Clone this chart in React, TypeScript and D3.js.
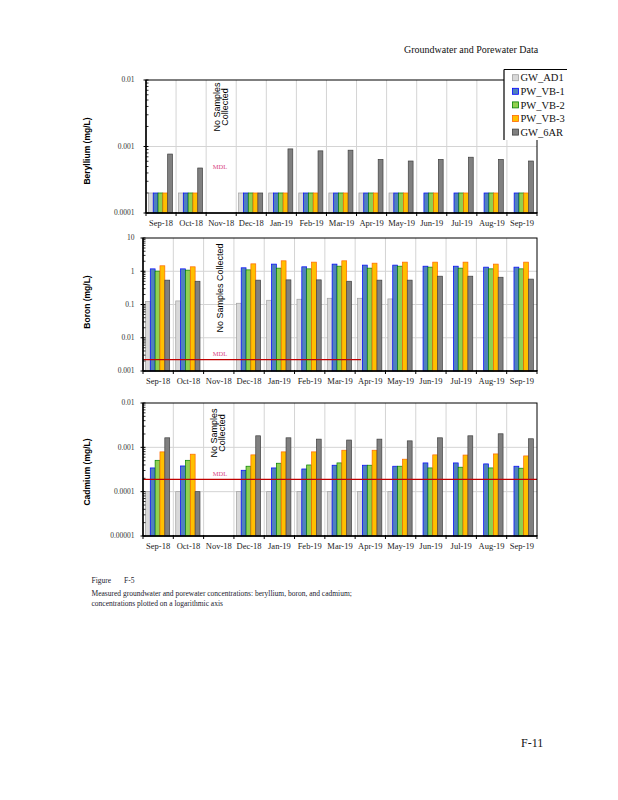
import * as d3 from "d3";
import * as React from "react";

const months = [
  "Sep-18", "Oct-18", "Nov-18", "Dec-18", "Jan-19", "Feb-19", "Mar-19",
  "Apr-19", "May-19", "Jun-19", "Jul-19", "Aug-19", "Sep-19",
];
const seriesNames = ["GW_AD1", "PW_VB-1", "PW_VB-2", "PW_VB-3", "GW_6AR"];
const fills = ["#d9d9d9", "#4f81bd", "#92d050", "#ffc000", "#808080"];
const strokes = ["#a0a0a0", "#0000ff", "#008000", "#ff6600", "#404040"];

// Beryllium (mg/L)
const beAD1 = [2e-4, 2e-4, null, 2e-4, 2e-4, 2e-4, 2e-4, 2e-4, 2e-4, null, null, null, null];
const beVB1 = [2e-4, 2e-4, null, 2e-4, 2e-4, 2e-4, 2e-4, 2e-4, 2e-4, 2e-4, 2e-4, 2e-4, 2e-4];
const beVB2 = [2e-4, 2e-4, null, 2e-4, 2e-4, 2e-4, 2e-4, 2e-4, 2e-4, 2e-4, 2e-4, 2e-4, 2e-4];
const beVB3 = [2e-4, 2e-4, null, 2e-4, 2e-4, 2e-4, 2e-4, 2e-4, 2e-4, 2e-4, 2e-4, 2e-4, 2e-4];
const be6AR = [7.7e-4, 4.75e-4, null, 2e-4, 9.2e-4, 8.6e-4, 8.8e-4, 6.4e-4, 6.05e-4, 6.4e-4, 6.9e-4, 6.4e-4, 6.05e-4];

// Boron (mg/L)
const bAD1 = [0.122, 0.128, null, 0.109, 0.134, 0.144, 0.154, 0.154, 0.147, null, null, null, null];
const bVB1 = [1.18, 1.18, null, 1.27, 1.64, 1.36, 1.64, 1.53, 1.53, 1.42, 1.42, 1.33, 1.33];
const bVB2 = [1.01, 1.08, null, 1.1, 1.24, 1.18, 1.42, 1.24, 1.42, 1.33, 1.24, 1.18, 1.18];
const bVB3 = [1.46, 1.36, null, 1.67, 2.06, 1.88, 2.06, 1.75, 1.88, 1.88, 1.88, 1.64, 1.88];
const b6AR = [0.54, 0.5, null, 0.54, 0.55, 0.55, 0.5, 0.54, 0.54, 0.71, 0.71, 0.66, 0.58];

// Cadmium (mg/L)
const cdAD1 = [1e-4, 1e-4, null, 1e-4, 1e-4, 1e-4, 1e-4, 1e-4, 1e-4, null, null, null, null];
const cdVB1 = [3.43e-4, 3.8e-4, null, 3.04e-4, 3.43e-4, 3.25e-4, 3.95e-4, 3.95e-4, 3.75e-4, 4.45e-4, 4.45e-4, 4.23e-4, 3.75e-4];
const cdVB2 = [5.1e-4, 5.1e-4, null, 3.75e-4, 4.38e-4, 4.0e-4, 4.45e-4, 3.95e-4, 3.75e-4, 3.43e-4, 3.56e-4, 3.43e-4, 3.38e-4];
const cdVB3 = [7.9e-4, 7.0e-4, null, 6.76e-4, 7.9e-4, 7.9e-4, 8.6e-4, 8.6e-4, 5.4e-4, 6.76e-4, 6.7e-4, 7.1e-4, 6.4e-4];
const cd6AR = [1.64e-3, 1e-4, null, 1.82e-3, 1.64e-3, 1.53e-3, 1.46e-3, 1.53e-3, 1.4e-3, 1.64e-3, 1.82e-3, 2.02e-3, 1.56e-3];

const beTicks = ["0.0001", "0.001", "0.01"];
const bTicks = ["0.001", "0.01", "0.1", "1", "10"];
const cdTicks = ["0.00001", "0.0001", "0.001", "0.01"];

const bMDL = 0.0022;
const cdMDL = 1.9e-4;

const serif = "'Liberation Serif', 'Times New Roman', serif";
const sans = "'Liberation Sans', Arial, sans-serif";

type PanelProps = {
  title: string;
  data: Array<Array<number | null>>;
  ticks: string[];
  left: number;
  right: number;
  top: number;
  bottom: number;
  titleY: number;
  mdl?: number;
  mdlEnd?: number;
  mdlLabelY: number;
  noteLines: string[];
  noteX: number;
  noteY: number;
};

function Panel(props: PanelProps) {
  const { title, data, ticks, left, right, top, bottom, titleY, mdl, mdlEnd, mdlLabelY, noteLines, noteX, noteY } = props;
  const tickVals = ticks.map((t) => +t);
  const y = d3.scaleLog().domain([tickVals[0], tickVals[tickVals.length - 1]]).range([bottom, top]);
  const x = d3.scaleBand().domain(months).range([left, right]);
  const bw = x.bandwidth();
  const sub = d3.scaleBand().domain(seriesNames).range([bw * 0.08, bw * 0.88]);

  const minor: number[] = [];
  tickVals.slice(0, -1).forEach((d) => {
    for (let k = 2; k <= 9; k++) minor.push(d * k);
  });

  const bounds = months.map((m) => x(m) as number).concat([right]);

  return (
    <g>
      {/* horizontal grid */}
      {tickVals.slice(1, -1).map((t) => (
        <line key={"hg" + t} x1={left} x2={right} y1={y(t)} y2={y(t)} stroke="#d4d4d4" strokeWidth={1} />
      ))}
      {/* vertical grid */}
      {bounds.slice(1, -1).map((bx, i) => (
        <line key={"vg" + i} x1={bx} x2={bx} y1={top} y2={bottom} stroke="#d4d4d4" strokeWidth={1} />
      ))}
      {/* bars */}
      {data.map((vals, si) =>
        vals.map((v, mi) =>
          v == null ? null : (
            <rect
              key={si + "-" + mi}
              x={(x(months[mi]) as number) + (sub(seriesNames[si]) as number)}
              y={y(v)}
              width={sub.bandwidth()}
              height={bottom - y(v)}
              fill={fills[si]}
              stroke={strokes[si]}
              strokeWidth={0.7}
            />
          )
        )
      )}
      {/* MDL */}
      {mdl != null && (
        <line x1={left} x2={mdlEnd ?? right} y1={y(mdl)} y2={y(mdl)} stroke="#c00000" strokeWidth={1.3} />
      )}
      <text x={220} y={mdlLabelY} fontFamily={serif} fontSize={6.5} fill="#d8457f" textAnchor="middle">
        MDL
      </text>
      {/* frame */}
      <rect x={left} y={top} width={right - left} height={bottom - top} fill="none" stroke="#000" strokeWidth={1} />
      <line x1={left} x2={left} y1={top} y2={bottom} stroke="#000" strokeWidth={1.4} />
      <line x1={left} x2={right} y1={bottom} y2={bottom} stroke="#000" strokeWidth={1.4} />
      {/* y ticks */}
      {tickVals.map((t, i) => (
        <g key={"yt" + t}>
          <line x1={left - 2.5} x2={left + 2.5} y1={y(t)} y2={y(t)} stroke="#000" strokeWidth={1} />
          <text x={134.5} y={y(t)} dy="0.33em" textAnchor="end" fontFamily={serif} fontSize={7.5} fill="#333">
            {ticks[i]}
          </text>
        </g>
      ))}
      {minor.map((t) => (
        <line key={"mt" + t} x1={left} x2={left + 2.5} y1={y(t)} y2={y(t)} stroke="#000" strokeWidth={0.8} />
      ))}
      {/* x ticks */}
      {bounds.map((bx, i) => (
        <line key={"xt" + i} x1={bx} x2={bx} y1={bottom - 1} y2={bottom + 3} stroke="#000" strokeWidth={1} />
      ))}
      {months.map((m) => (
        <text key={"xl" + m} x={(x(m) as number) + bw / 2} y={bottom + 13} textAnchor="middle" fontFamily={serif} fontSize={8.5} fill="#222">
          {m}
        </text>
      ))}
      {/* y title */}
      <text
        transform={`translate(89.5,${titleY}) rotate(-90)`}
        textAnchor="middle"
        fontFamily={sans}
        fontWeight="bold"
        fontSize={8.5}
        fill="#000"
      >
        {title}
      </text>
      {/* note */}
      <text transform={`translate(${noteX},${noteY}) rotate(-90)`} textAnchor="middle" fontFamily={sans} fontSize={9} fill="#000">
        {noteLines.map((l, i) => (
          <tspan key={i} x={0} dy={i === 0 ? 0 : 8}>
            {l}
          </tspan>
        ))}
      </text>
    </g>
  );
}

export default function App() {
  const legendTop = 69.5;
  return (
    <svg width={618} height={800} style={{ position: "absolute", left: 0, top: 0, background: "#fff" }}>
      <rect width={618} height={800} fill="#fff" />
      <text x={404} y={53} fontFamily={serif} fontSize={10} fill="#111">
        Groundwater and Porewater Data
      </text>

      <Panel
        title="Beryllium (mg/L)"
        data={[beAD1, beVB1, beVB2, beVB3, be6AR]}
        ticks={beTicks}
        left={146}
        right={537}
        top={80}
        bottom={213}
        titleY={151}
        mdlLabelY={169}
        noteLines={["No Samples", "Collected"]}
        noteX={220}
        noteY={107}
      />
      <Panel
        title="Boron (mg/L)"
        data={[bAD1, bVB1, bVB2, bVB3, b6AR]}
        ticks={bTicks}
        left={143}
        right={537}
        top={238}
        bottom={371}
        titleY={302}
        mdl={bMDL}
        mdlEnd={361}
        mdlLabelY={355.5}
        noteLines={["No Samples Collected"]}
        noteX={223}
        noteY={288}
      />
      <Panel
        title="Cadmium (mg/L)"
        data={[cdAD1, cdVB1, cdVB2, cdVB3, cd6AR]}
        ticks={cdTicks}
        left={143}
        right={537}
        top={403}
        bottom={536}
        titleY={472}
        mdl={cdMDL}
        mdlLabelY={475.5}
        noteLines={["No Samples", "Collected"]}
        noteX={217}
        noteY={433}
      />

      {/* legend */}
      <g>
        <rect x={504} y={legendTop} width={90} height={70.5} fill="#fff" />
        <line x1={504} x2={567} y1={legendTop} y2={legendTop} stroke="#000" strokeWidth={1.2} />
        <line x1={504} x2={504} y1={legendTop} y2={140} stroke="#000" strokeWidth={1.2} />
        {seriesNames.map((s, i) => (
          <g key={s} transform={`translate(512.5,${77.7 + i * 13.6})`}>
            <rect x={0} y={-3} width={6} height={6} fill={fills[i]} stroke={strokes[i]} strokeWidth={0.8} />
            <text x={8} y={0} dy="0.35em" fontFamily={serif} fontSize={10.5} fill="#111">
              {s}
            </text>
          </g>
        ))}
      </g>

      {/* caption */}
      <text x={91.5} y={583} fontFamily={serif} fontSize={7.5} fill="#1a1a2e">
        Figure
      </text>
      <text x={124} y={583} fontFamily={serif} fontSize={7.5} fill="#1a1a2e">
        F-5
      </text>
      <text x={91.5} y={595.5} fontFamily={serif} fontSize={7.5} fill="#1a1a2e">
        Measured groundwater and porewater concentrations: beryllium, boron, and cadmium;
      </text>
      <text x={91.5} y={605.5} fontFamily={serif} fontSize={7.5} fill="#1a1a2e">
        concentrations plotted on a logarithmic axis
      </text>
      <text x={521} y={747} fontFamily={serif} fontSize={12} fill="#111">
        F-11
      </text>
    </svg>
  );
}
